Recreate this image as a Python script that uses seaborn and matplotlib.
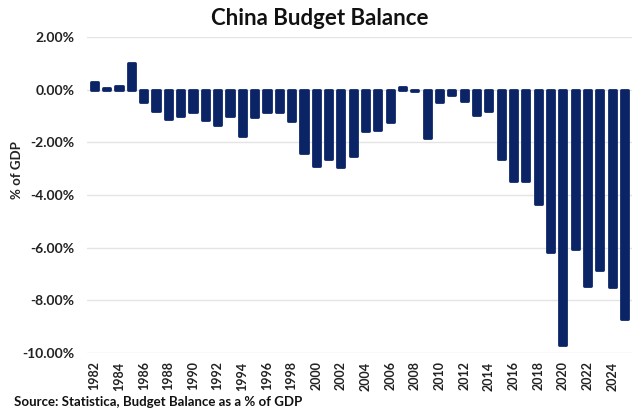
import matplotlib
matplotlib.use("Agg")
import matplotlib.pyplot as plt
import seaborn as sns
import pandas as pd
from matplotlib.ticker import FuncFormatter

years = list(range(1982, 2026))
balance = [0.30, 0.05, 0.15, 1.00, -0.48, -0.80, -1.10, -1.00, -0.83, -1.15,
           -1.35, -1.00, -1.75, -1.05, -0.83, -0.83, -1.20, -2.40, -2.90, -2.65,
           -2.95, -2.50, -1.58, -1.53, -1.24, 0.10, -0.05, -1.85, -0.48, -0.20,
           -0.42, -0.98, -0.82, -2.63, -3.48, -3.48, -4.35, -6.15, -9.68, -6.06,
           -7.45, -6.85, -7.48, -8.72]
y_ticks = [2, 0, -2, -4, -6, -8, -10]

df = pd.DataFrame({"year": [str(y) for y in years], "balance": balance})

sns.set_theme(style="white")
plt.rcParams["font.family"] = ["Lato", "DejaVu Sans"]

navy = "#0b2466"
fig = plt.figure(figsize=(6.35, 4.11), dpi=100)
ax = fig.add_axes([0.137, 0.141, 0.858, 0.769])

sns.barplot(data=df, x="year", y="balance", color=navy, saturation=1,
            width=0.58, ax=ax, zorder=3)
# thick edge with round joins softens the bar corners
for p in ax.patches:
    p.set_edgecolor(navy)
    p.set_linewidth(2.0)
    p.set_joinstyle("round")

ax.set_ylim(-10, 2)
ax.set_yticks(y_ticks)
ax.yaxis.set_major_formatter(FuncFormatter(lambda v, _: f"{v:.2f}%"))
ax.grid(axis="y", color="#e4e4e4", linewidth=1.0, zorder=0)
ax.grid(axis="x", visible=False)
for s in ax.spines.values():
    s.set_visible(False)

ax.set_xlim(-0.6, len(years) - 0.4)
labels = [str(y) if (y % 2 == 0) else "" for y in years]
ax.set_xticks(range(len(years)))
ax.set_xticklabels(labels, rotation=90, fontsize=9, fontweight="bold", color="#222222")
ax.tick_params(axis="x", length=0, pad=6)
ax.tick_params(axis="y", length=0, pad=9, labelsize=10, labelcolor="#222222")
for t in ax.get_yticklabels():
    t.set_fontweight("bold")

ax.set_xlabel("")
ax.set_ylabel("% of GDP", fontsize=9.5, fontweight="bold", color="#222222")
ax.yaxis.set_label_coords(-0.118, 0.58)

fig.text(0.503, 0.956, "China Budget Balance", ha="center", va="center",
         fontsize=16, fontweight="bold", color="#111111")
fig.text(0.022, 0.022, "Source: Statistica, Budget Balance as a % of GDP",
         ha="left", va="center", fontsize=9.5, fontweight="bold", color="#111111")

fig.savefig("out.png", dpi=100)
